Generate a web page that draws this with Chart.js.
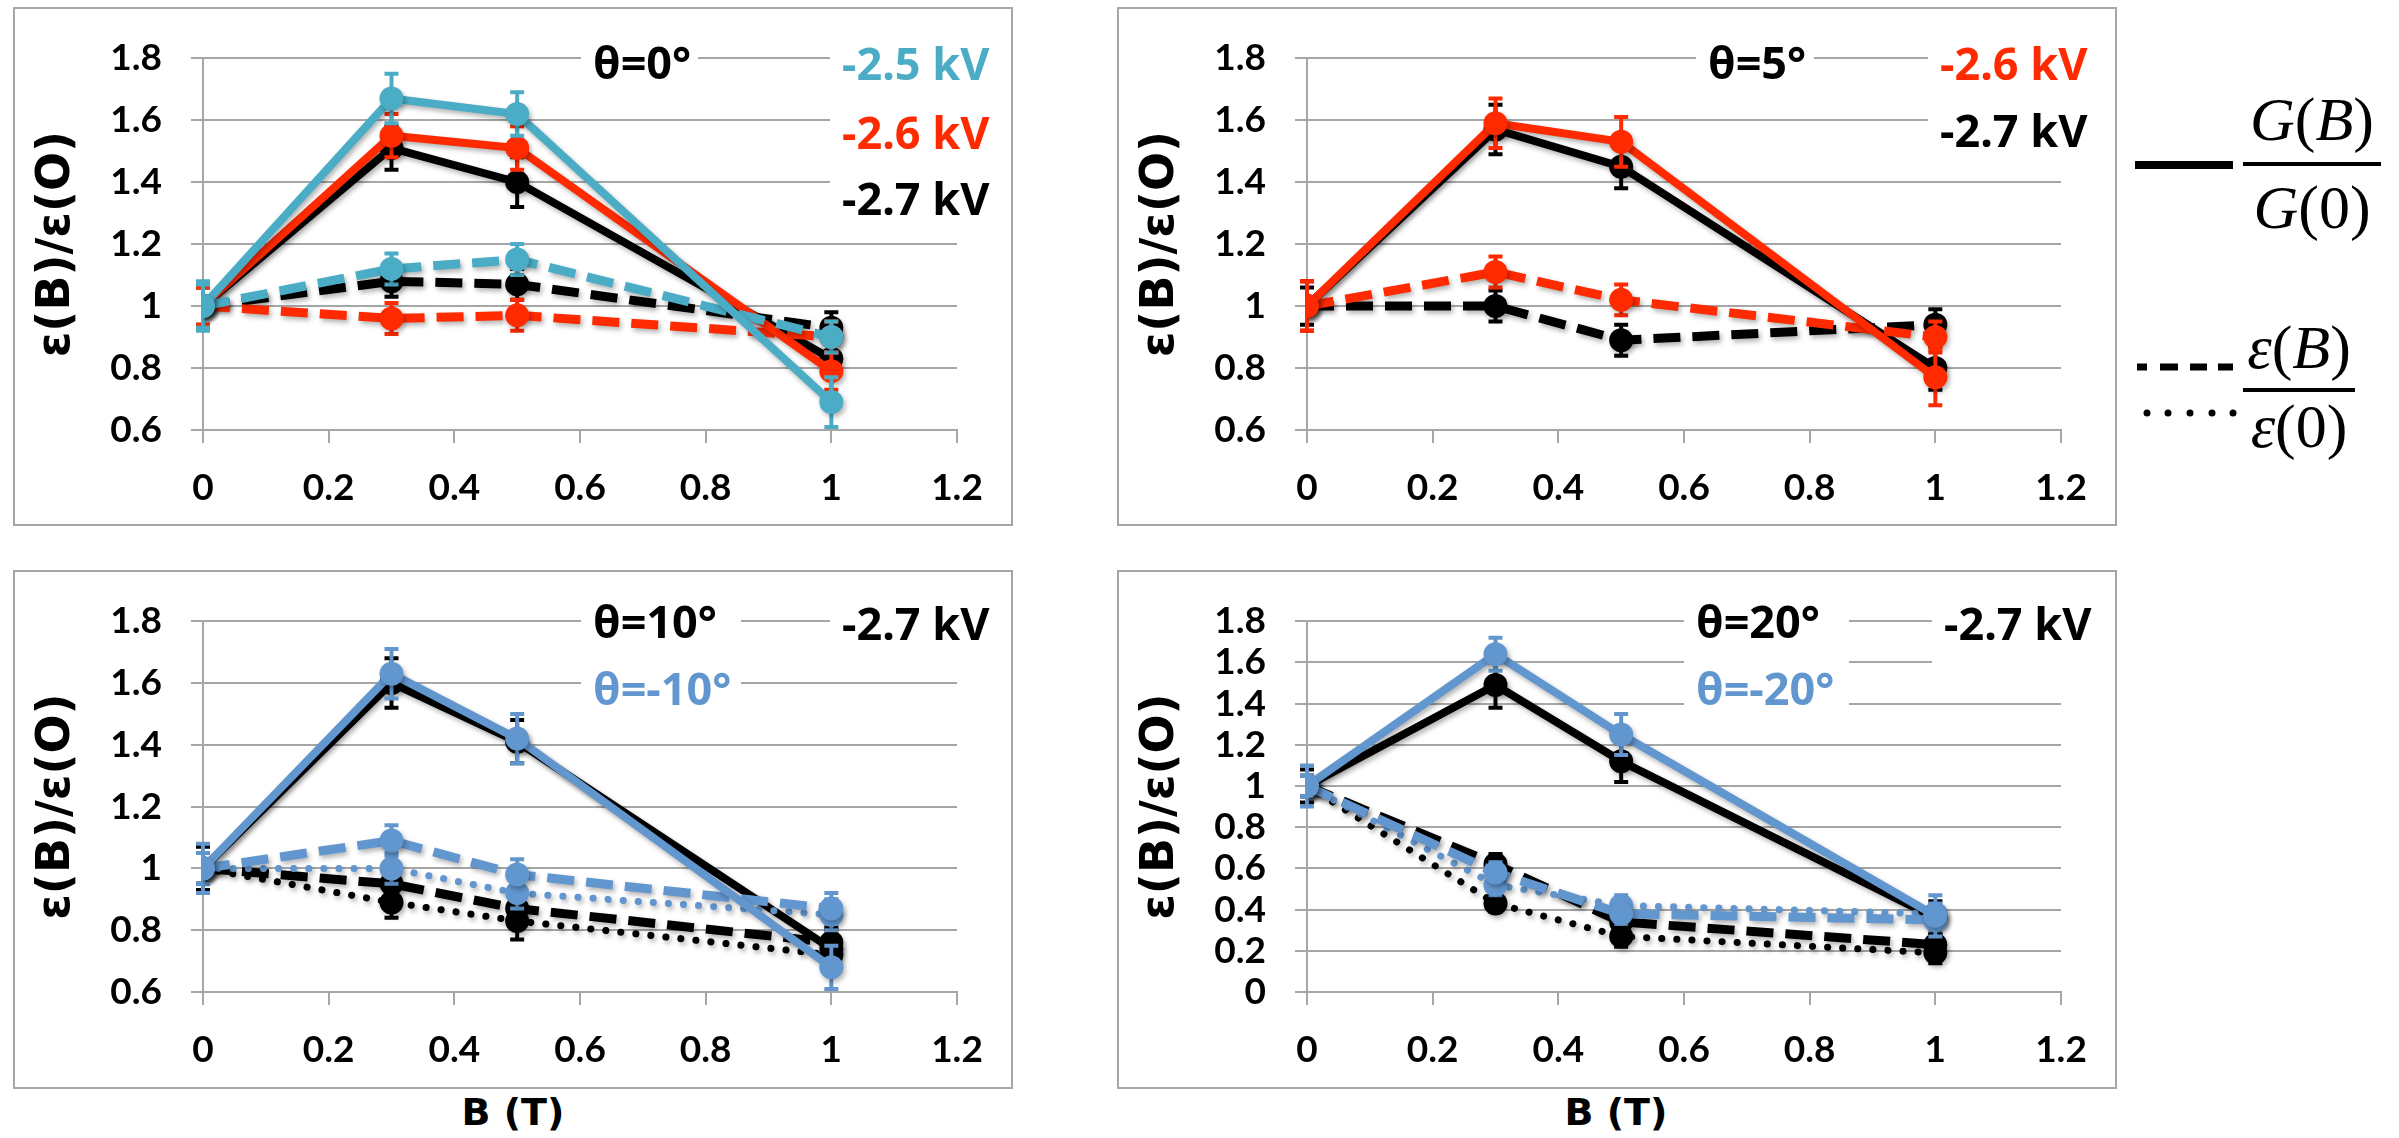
<!DOCTYPE html>
<html>
<head>
<meta charset="utf-8">
<script src="https://cdn.jsdelivr.net/npm/chart.js@4.4.1/dist/chart.umd.min.js"></script>
<style>
html,body{margin:0;padding:0;background:#fff;}
body{width:2399px;height:1138px;overflow:hidden;position:relative;}
.panel{position:absolute;width:1000px;height:519px;}
.panel canvas{position:absolute;left:0;top:0;}
.frame{position:absolute;left:0;top:0;width:1000px;height:519px;border:2px solid #A6A6A6;box-sizing:border-box;pointer-events:none;}
.box{position:absolute;background:#fff;}
.ann{position:absolute;font-family:'Noto Sans',sans-serif;font-weight:700;font-size:45px;line-height:1;white-space:nowrap;}
.xt{position:absolute;font-family:'DejaVu Sans',sans-serif;font-weight:700;font-size:38px;line-height:1;white-space:nowrap;text-align:center;width:200px;}
.frac{position:absolute;font-family:'Liberation Serif','Times New Roman',serif;font-size:62px;line-height:1;white-space:nowrap;text-align:center;}
.frac i{font-style:italic;}
.bar{position:absolute;background:#000;}
</style>
</head>
<body>

<script>
// ---------------- data ----------------
const bField = [0, 0.3, 0.5, 1.0];
const xTickValues = [0, 0.2, 0.4, 0.6, 0.8, 1.0, 1.2];
const xTickLabels = ['0', '0.2', '0.4', '0.6', '0.8', '1', '1.2'];
const yTickValuesA = [0.6, 0.8, 1.0, 1.2, 1.4, 1.6, 1.8];
const yTickLabelsA = ['0.6', '0.8', '1', '1.2', '1.4', '1.6', '1.8'];
const yTickValuesB = [0, 0.2, 0.4, 0.6, 0.8, 1.0, 1.2, 1.4, 1.6, 1.8];
const yTickLabelsB = ['0', '0.2', '0.4', '0.6', '0.8', '1', '1.2', '1.4', '1.6', '1.8'];

// theta = 0 deg
const gain0_25kV = [1.00, 1.67, 1.62, 0.69];
const gain0_25kVErr = [0.08, 0.08, 0.07, 0.08];
const gain0_26kV = [1.00, 1.55, 1.51, 0.79];
const gain0_26kVErr = [0.07, 0.07, 0.07, 0.06];
const gain0_27kV = [1.00, 1.51, 1.40, 0.83];
const gain0_27kVErr = [0.07, 0.07, 0.08, 0.06];
const eff0_25kV = [1.00, 1.12, 1.15, 0.90];
const eff0_25kVErr = [0.07, 0.05, 0.05, 0.05];
const eff0_26kV = [1.00, 0.96, 0.97, 0.90];
const eff0_26kVErr = [0.06, 0.05, 0.05, 0.05];
const eff0_27kV = [1.00, 1.08, 1.07, 0.93];
const eff0_27kVErr = [0.06, 0.05, 0.05, 0.05];

// theta = 5 deg
const gain5_26kV = [1.00, 1.59, 1.53, 0.77];
const gain5_26kVErr = [0.08, 0.08, 0.08, 0.09];
const gain5_27kV = [1.00, 1.57, 1.45, 0.80];
const gain5_27kVErr = [0.08, 0.08, 0.07, 0.07];
const eff5_26kV = [1.00, 1.11, 1.02, 0.90];
const eff5_26kVErr = [0.08, 0.05, 0.05, 0.05];
const eff5_27kV = [1.00, 1.00, 0.89, 0.94];
const eff5_27kVErr = [0.06, 0.05, 0.05, 0.05];

// theta = +-10 deg, -2.7 kV
const gainP10 = [1.00, 1.60, 1.41, 0.74];
const gainP10Err = [0.07, 0.08, 0.07, 0.06];
const gainM10 = [1.00, 1.63, 1.42, 0.68];
const gainM10Err = [0.08, 0.08, 0.08, 0.07];
const effDashP10 = [1.00, 0.95, 0.87, 0.76];
const effDashP10Err = [0.05, 0.05, 0.05, 0.05];
const effDotP10 = [1.00, 0.89, 0.83, 0.72];
const effDotP10Err = [0.05, 0.05, 0.06, 0.05];
const effDashM10 = [1.00, 1.09, 0.98, 0.87];
const effDashM10Err = [0.05, 0.05, 0.05, 0.05];
const effDotM10 = [1.00, 1.00, 0.92, 0.85];
const effDotM10Err = [0.05, 0.05, 0.05, 0.05];

// theta = +-20 deg, -2.7 kV
const gainP20 = [1.00, 1.49, 1.12, 0.36];
const gainP20Err = [0.08, 0.11, 0.10, 0.08];
const gainM20 = [1.00, 1.64, 1.25, 0.37];
const gainM20Err = [0.10, 0.08, 0.10, 0.10];
const effDashP20 = [1.00, 0.62, 0.34, 0.23];
const effDashP20Err = [0.05, 0.05, 0.05, 0.05];
const effDotP20 = [1.00, 0.43, 0.27, 0.19];
const effDotP20Err = [0.05, 0.04, 0.05, 0.05];
const effDashM20 = [1.00, 0.58, 0.38, 0.35];
const effDashM20Err = [0.05, 0.05, 0.05, 0.05];
const effDotM20 = [1.00, 0.52, 0.42, 0.38];
const effDotM20Err = [0.05, 0.05, 0.05, 0.05];

// ---------------- styles ----------------
const CYAN = '#4BACC6';
const RED = '#FF2A00';
const BLUE = '#6296CE';
const BLACK = '#000000';
const GRID = '#A6A6A6';

function series(values, errors, color, style) {
  const ds = {
    data: values.map((v, i) => ({ x: bField[i], y: v })),
    errors: errors,
    borderColor: color,
    backgroundColor: color,
    pointBackgroundColor: color,
    pointBorderColor: color,
    pointRadius: 12,
    pointBorderWidth: 0,
    borderWidth: 8,
    tension: 0,
    fill: false,
    borderCapStyle: 'butt'
  };
  if (style === 'dash') { ds.borderDash = [27, 12]; ds.borderWidth = 9; }
  if (style === 'dot') { ds.borderDash = [0.1, 15]; ds.borderCapStyle = 'round'; ds.borderWidth = 7; }
  return ds;
}

const errorBarPlugin = {
  id: 'errorBars',
  beforeDatasetDraw(chart, args) {
    const ds = chart.data.datasets[args.index];
    const ctx = chart.ctx;
    if (ds.errors) {
      const xs = chart.scales.x, ys = chart.scales.y;
      ctx.save();
      ctx.strokeStyle = ds.borderColor;
      ctx.setLineDash([]);
      ds.data.forEach((p, i) => {
        const e = ds.errors[i];
        const px = xs.getPixelForValue(p.x);
        const yTop = ys.getPixelForValue(p.y + e);
        const yBot = ys.getPixelForValue(p.y - e);
        ctx.lineWidth = 4;
        ctx.beginPath();
        ctx.moveTo(px, yTop); ctx.lineTo(px, yBot);
        ctx.stroke();
        ctx.lineWidth = 4;
        ctx.beginPath();
        ctx.moveTo(px - 7, yTop); ctx.lineTo(px + 7, yTop);
        ctx.moveTo(px - 7, yBot); ctx.lineTo(px + 7, yBot);
        ctx.stroke();
      });
      ctx.restore();
    }
    // soft drop shadow for the series, as in the original
    ctx.save();
    ctx.shadowColor = 'rgba(0,0,0,0.30)';
    ctx.shadowBlur = 5;
    ctx.shadowOffsetX = 2;
    ctx.shadowOffsetY = 3;
  },
  afterDatasetDraw(chart) {
    chart.ctx.restore();
  }
};

function makePanel(left, top, padTop, xHeight, datasets, yMin, yVals, yLabels) {
  const wrap = document.createElement('div');
  wrap.className = 'panel';
  wrap.style.left = left + 'px';
  wrap.style.top = top + 'px';
  const cv = document.createElement('canvas');
  cv.width = 1000; cv.height = 519;
  cv.style.width = '1000px'; cv.style.height = '519px';
  wrap.appendChild(cv);
  const fr = document.createElement('div');
  fr.className = 'frame';
  wrap.appendChild(fr);
  document.body.appendChild(wrap);

  const tickFont = { family: 'Lato', weight: 'bold', size: 37 };
  new Chart(cv, {
    type: 'line',
    data: { datasets: datasets },
    plugins: [errorBarPlugin],
    options: {
      responsive: false,
      animation: false,
      devicePixelRatio: 1,
      layout: { padding: { top: padTop, right: 56, left: 0, bottom: 0 } },
      plugins: { legend: { display: false }, tooltip: { enabled: false } },
      elements: { line: { tension: 0 } },
      scales: {
        x: {
          type: 'linear', min: 0, max: 1.2,
          afterBuildTicks: s => { s.ticks = xTickValues.map(v => ({ value: v })); },
          afterFit: s => { s.height = xHeight; },
          ticks: { callback: (v, i) => xTickLabels[i], font: tickFont, color: '#000', padding: 23, maxRotation: 0, autoSkip: false },
          grid: { drawOnChartArea: false, color: GRID, lineWidth: 2, tickLength: 13 },
          border: { color: GRID, width: 2 }
        },
        y: {
          type: 'linear', min: yMin, max: 1.8,
          afterBuildTicks: s => { s.ticks = yVals.map(v => ({ value: v })); },
          afterFit: s => { s.width = 190; },
          ticks: { callback: (v, i) => yLabels[i], font: tickFont, color: '#000', padding: 29, autoSkip: false },
          grid: { color: GRID, lineWidth: 2, tickLength: 12 },
          border: { color: GRID, width: 2 },
          title: { display: true, text: 'ε(B)/ε(O)', color: '#000',
                   font: { family: 'DejaVu Sans', weight: 'bold', size: 46 }, padding: { top: 16, bottom: 0 } }
        }
      }
    }
  });
}

// panel 1: theta = 0
makePanel(13, 7, 39, 96, [
  series(gain0_25kV, gain0_25kVErr, CYAN, 'solid'),
  series(eff0_25kV, eff0_25kVErr, CYAN, 'dash'),
  series(gain0_26kV, gain0_26kVErr, RED, 'solid'),
  series(eff0_26kV, eff0_26kVErr, RED, 'dash'),
  series(gain0_27kV, gain0_27kVErr, BLACK, 'solid'),
  series(eff0_27kV, eff0_27kVErr, BLACK, 'dash')
], 0.6, yTickValuesA, yTickLabelsA);

// panel 2: theta = 5
makePanel(1117, 7, 39, 96, [
  series(gain5_26kV, gain5_26kVErr, RED, 'solid'),
  series(eff5_26kV, eff5_26kVErr, RED, 'dash'),
  series(gain5_27kV, gain5_27kVErr, BLACK, 'solid'),
  series(eff5_27kV, eff5_27kVErr, BLACK, 'dash')
], 0.6, yTickValuesA, yTickLabelsA);

// panel 3: theta = +-10
makePanel(13, 570, 38, 97, [
  series(gainM10, gainM10Err, BLUE, 'solid'),
  series(effDashM10, effDashM10Err, BLUE, 'dash'),
  series(effDotM10, effDotM10Err, BLUE, 'dot'),
  series(gainP10, gainP10Err, BLACK, 'solid'),
  series(effDashP10, effDashP10Err, BLACK, 'dash'),
  series(effDotP10, effDotP10Err, BLACK, 'dot')
], 0.6, yTickValuesA, yTickLabelsA);

// panel 4: theta = +-20
makePanel(1117, 570, 38, 97, [
  series(gainM20, gainM20Err, BLUE, 'solid'),
  series(effDashM20, effDashM20Err, BLUE, 'dash'),
  series(effDotM20, effDotM20Err, BLUE, 'dot'),
  series(gainP20, gainP20Err, BLACK, 'solid'),
  series(effDashP20, effDashP20Err, BLACK, 'dash'),
  series(effDotP20, effDotP20Err, BLACK, 'dot')
], 0, yTickValuesB, yTickLabelsB);
</script>

<!-- white boxes behind annotation texts -->
<div class="box" style="left:581px;top:38px;width:117px;height:54px;"></div>
<div class="box" style="left:830px;top:38px;width:178px;height:187px;"></div>
<div class="box" style="left:1696px;top:38px;width:118px;height:54px;"></div>
<div class="box" style="left:1928px;top:38px;width:182px;height:122px;"></div>
<div class="box" style="left:581px;top:598px;width:160px;height:117px;"></div>
<div class="box" style="left:830px;top:598px;width:178px;height:50px;"></div>
<div class="box" style="left:1684px;top:598px;width:165px;height:117px;"></div>
<div class="box" style="left:1932px;top:598px;width:178px;height:82px;"></div>

<!-- annotations -->
<div class="ann" style="left:593px;top:39px;color:#000;">θ=0°</div>
<div class="ann" style="left:842px;top:40px;color:#4BACC6;">-2.5 kV</div>
<div class="ann" style="left:842px;top:109px;color:#FF2A00;">-2.6 kV</div>
<div class="ann" style="left:842px;top:175px;color:#000;">-2.7 kV</div>

<div class="ann" style="left:1708px;top:39px;color:#000;">θ=5°</div>
<div class="ann" style="left:1940px;top:40px;color:#FF2A00;">-2.6 kV</div>
<div class="ann" style="left:1940px;top:107px;color:#000;">-2.7 kV</div>

<div class="ann" style="left:593px;top:598px;color:#000;">θ=10°</div>
<div class="ann" style="left:593px;top:665px;color:#6296CE;">θ=-10°</div>
<div class="ann" style="left:842px;top:600px;color:#000;">-2.7 kV</div>

<div class="ann" style="left:1696px;top:598px;color:#000;">θ=20°</div>
<div class="ann" style="left:1696px;top:665px;color:#6296CE;">θ=-20°</div>
<div class="ann" style="left:1944px;top:600px;color:#000;">-2.7 kV</div>

<!-- x axis titles -->
<div class="xt" style="left:413px;top:1093px;">B (T)</div>
<div class="xt" style="left:1516px;top:1093px;">B (T)</div>

<!-- legend on the right -->
<div class="bar" style="left:2135px;top:161px;width:98px;height:8px;"></div>
<div class="frac" style="left:2243px;top:88px;width:138px;"><i>G</i>(<i>B</i>)</div>
<div class="bar" style="left:2243px;top:162px;width:138px;height:4px;"></div>
<div class="frac" style="left:2243px;top:176px;width:138px;"><i>G</i>(0)</div>

<svg style="position:absolute;left:2130px;top:350px;" width="110" height="80">
  <line x1="7" y1="17" x2="103" y2="17" stroke="#000" stroke-width="7" stroke-dasharray="10 13 18 12 17 11 15 0"/>
  <circle cx="17" cy="63" r="3.5" fill="#000"/>
  <circle cx="38" cy="63" r="3.5" fill="#000"/>
  <circle cx="60" cy="63" r="3.5" fill="#000"/>
  <circle cx="82" cy="63" r="3.5" fill="#000"/>
  <circle cx="103" cy="63" r="3.5" fill="#000"/>
</svg>
<div class="frac" style="left:2243px;top:316px;width:112px;"><i>ε</i>(<i>B</i>)</div>
<div class="bar" style="left:2243px;top:388px;width:112px;height:4px;"></div>
<div class="frac" style="left:2243px;top:395px;width:112px;"><i>ε</i>(0)</div>

</body>
</html>
